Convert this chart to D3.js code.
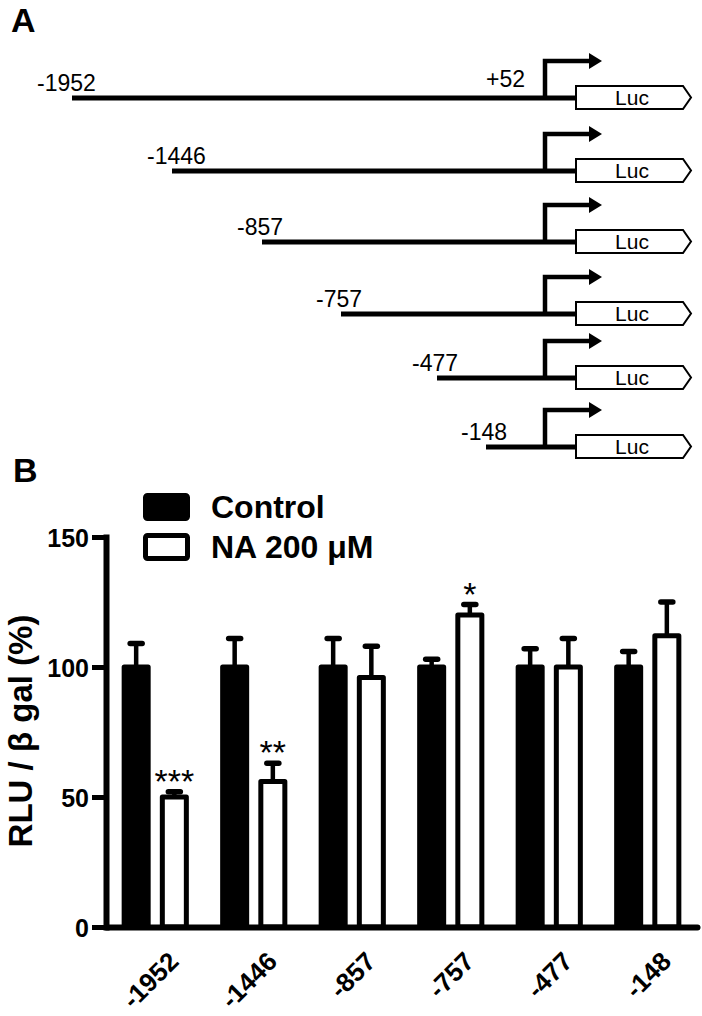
<!DOCTYPE html>
<html>
<head>
<meta charset="utf-8">
<script src="https://cdn.jsdelivr.net/npm/d3@7"></script>
<style>
  html, body { margin: 0; padding: 0; background: #fff; }
  svg { display: block; font-family: "Liberation Sans", Arial, sans-serif; }
</style>
</head>
<body>
<svg id="chart" width="702" height="1016"></svg>
<script>
// ---------- data ----------
const constructs = ["-1952", "-1446", "-857", "-757", "-477", "-148"];
const categories = ["-1952", "-1446", "-857", "-757", "-477", "-148"];
const seriesNames = ["Control", "NA 200 \u03bcM"];
const controlValues = [100, 100, 100, 100, 100, 100];
const controlErrors = [9, 11, 11, 3, 7, 6];
const naValues = [50, 56, 96, 120, 100, 112];
const naErrors = [2, 7, 12, 4, 11, 13];
const significance = ["***", "**", "", "*", "", ""];
const yTicks = [0, 50, 100, 150];

const FONT = "Liberation Sans, Arial, sans-serif";
const svg = d3.select("#chart");

// ---------- Panel A: promoter constructs ----------
svg.append("text").attr("x", 11).attr("y", 32)
  .attr("font-size", 34).attr("font-weight", "bold").text("A");

const rowY = d3.scaleOrdinal().domain(constructs).range([98, 171, 242, 314, 378, 447]);
const startX = d3.scaleOrdinal().domain(constructs).range([72, 172, 262, 341, 437, 486]);
const lineEnd = 576, tssX = 545, arrowEnd = 602, lucEnd = 683, lucTip = 691;

const rows = svg.append("g").selectAll("g").data(constructs).join("g")
  .attr("transform", d => `translate(0,${rowY(d)})`);

rows.append("line")
  .attr("x1", d => startX(d)).attr("x2", lineEnd)
  .attr("y1", 0).attr("y2", 0)
  .attr("stroke", "#000").attr("stroke-width", 5);

rows.append("text")
  .attr("x", (d, i) => startX(d) - (i === 0 ? 35 : 25))
  .attr("y", -7)
  .attr("font-size", 23)
  .text(d => d);

// TSS arrow
rows.append("path")
  .attr("d", `M${tssX},0 V-37 H${arrowEnd - 12}`)
  .attr("fill", "none").attr("stroke", "#000").attr("stroke-width", 4.5);
rows.append("path")
  .attr("d", `M${arrowEnd - 13},-45 L${arrowEnd},-37 L${arrowEnd - 13},-29 Z`)
  .attr("fill", "#000");

// Luc box
rows.append("path")
  .attr("d", `M${lineEnd},-12 H${lucEnd} L${lucTip},-0.5 L${lucEnd},11 H${lineEnd} Z`)
  .attr("fill", "#fff").attr("stroke", "#000").attr("stroke-width", 2);
rows.append("text")
  .attr("x", 632).attr("y", 7)
  .attr("text-anchor", "middle")
  .attr("font-size", 21)
  .text("Luc");

svg.append("text").attr("x", 486).attr("y", 87)
  .attr("font-size", 23).text("+52");

// ---------- Panel B: bar chart ----------
svg.append("text").attr("x", 13).attr("y", 482)
  .attr("font-size", 34).attr("font-weight", "bold").text("B");

const y = d3.scaleLinear().domain([0, 150]).range([927, 537]);
const x0 = d3.scaleBand().domain(categories).range([106, 697]);
const x1 = d3.scaleBand().domain(seriesNames).range([0, x0.bandwidth()])
  .paddingInner(0.24).paddingOuter(0.41);

const series = [
  { name: seriesNames[0], values: controlValues, errors: controlErrors, fill: "#000" },
  { name: seriesNames[1], values: naValues, errors: naErrors, fill: "#fff" }
];

const bars = [];
series.forEach(s => categories.forEach((c, i) => {
  bars.push({ cat: c, name: s.name, v: s.values[i], e: s.errors[i], fill: s.fill,
              sig: s.name === seriesNames[1] ? significance[i] : "" });
}));

const gBars = svg.append("g");
const bw = x1.bandwidth();
const cx = d => x0(d.cat) + x1(d.name) + bw / 2;

// error bars (behind bars)
gBars.selectAll("line.stem").data(bars).join("line").attr("class", "stem")
  .attr("x1", cx).attr("x2", cx)
  .attr("y1", d => y(d.v)).attr("y2", d => y(d.v + d.e))
  .attr("stroke", "#000").attr("stroke-width", 4.5);
gBars.selectAll("line.cap").data(bars).join("line").attr("class", "cap")
  .attr("x1", d => cx(d) - 6).attr("x2", d => cx(d) + 6)
  .attr("y1", d => y(d.v + d.e)).attr("y2", d => y(d.v + d.e))
  .attr("stroke", "#000").attr("stroke-width", 5.5).attr("stroke-linecap", "round");

gBars.selectAll("rect.bar").data(bars).join("rect").attr("class", "bar")
  .attr("x", d => x0(d.cat) + x1(d.name) + 2.5)
  .attr("width", bw - 5)
  .attr("y", d => y(d.v))
  .attr("height", d => y(0) - y(d.v))
  .attr("fill", d => d.fill)
  .attr("stroke", "#000").attr("stroke-width", 5).attr("stroke-linejoin", "round");

gBars.selectAll("text.sig").data(bars.filter(d => d.sig)).join("text").attr("class", "sig")
  .attr("x", cx)
  .attr("y", d => y(d.v + d.e) + 1)
  .attr("text-anchor", "middle")
  .attr("font-size", 34)
  .text(d => d.sig);

// y axis
const yAxis = svg.append("g").attr("transform", "translate(106,0)")
  .call(d3.axisLeft(y).tickValues(yTicks).tickSize(14).tickSizeOuter(0).tickPadding(3));
yAxis.select(".domain").attr("stroke-width", 6).attr("stroke-linecap", "square");
yAxis.selectAll(".tick line").attr("stroke-width", 5);
yAxis.selectAll(".tick text")
  .attr("font-size", 25).attr("font-weight", "bold")
  .attr("font-family", FONT)
  .attr("dy", "0.36em");

// x axis
const xAxis = svg.append("g").attr("transform", "translate(0,927)")
  .call(d3.axisBottom(x0).tickSize(0).tickSizeOuter(0));
xAxis.select(".domain").attr("stroke-width", 6).attr("stroke-linecap", "round");
xAxis.selectAll(".tick text")
  .attr("x", 0).attr("y", 0).attr("dy", null)
  .attr("text-anchor", "end")
  .attr("transform", "translate(25,36) rotate(-45)")
  .attr("font-size", 26).attr("font-weight", "bold")
  .attr("font-family", FONT);

// y axis title
svg.append("text")
  .attr("transform", "translate(32,731) rotate(-90)")
  .attr("text-anchor", "middle")
  .attr("font-size", 33).attr("font-weight", "bold")
  .text("RLU / \u03b2 gal (%)");

// legend
const legend = svg.append("g");
const legendY = d3.scalePoint().domain(seriesNames).range([507, 547]);
legend.selectAll("rect").data(series).join("rect")
  .attr("x", 145.5).attr("width", 42)
  .attr("y", d => legendY(d.name) - 11.5).attr("height", 23)
  .attr("rx", 2)
  .attr("fill", d => d.fill).attr("stroke", "#000").attr("stroke-width", 5);
legend.selectAll("text").data(series).join("text")
  .attr("x", 211).attr("y", d => legendY(d.name) + 11)
  .attr("font-size", 32).attr("font-weight", "bold")
  .text(d => d.name);
</script>
</body>
</html>
